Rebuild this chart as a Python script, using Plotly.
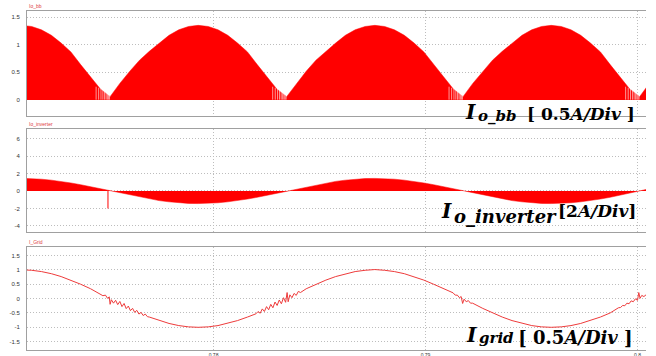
import plotly.graph_objects as go

# ---------------- data ----------------
# shared time base for the envelopes (s)
t_env = [0.77096, 0.77142, 0.77188, 0.77235, 0.77281, 0.77327, 0.77373, 0.77420, 0.77466, 0.77512,
         0.77558, 0.77605, 0.77651, 0.77697, 0.77743, 0.77790, 0.77836, 0.77882, 0.77928, 0.77975,
         0.78021, 0.78067, 0.78113, 0.78160, 0.78206, 0.78252, 0.78298, 0.78345, 0.78391, 0.78437,
         0.78483, 0.78530, 0.78576, 0.78622, 0.78668, 0.78715, 0.78761, 0.78807, 0.78853, 0.78900,
         0.78946, 0.78992, 0.79038, 0.79085, 0.79131, 0.79177, 0.79223, 0.79270, 0.79316, 0.79362,
         0.79408, 0.79455, 0.79501, 0.79547, 0.79593, 0.79640, 0.79686, 0.79732, 0.79778, 0.79825,
         0.79871, 0.79917, 0.79963, 0.80010, 0.80056]

# Io_bb envelope (A)
io_bb = [1.35, 1.33, 1.27, 1.17, 1.03, 0.87, 0.64, 0.42, 0.20, 0.06,
         0.30, 0.52, 0.72, 0.88, 1.03, 1.17, 1.27, 1.33, 1.35, 1.33,
         1.27, 1.17, 1.03, 0.87, 0.64, 0.42, 0.20, 0.06, 0.30, 0.52,
         0.72, 0.88, 1.03, 1.17, 1.27, 1.33, 1.35, 1.33, 1.27, 1.17,
         1.03, 0.87, 0.64, 0.42, 0.20, 0.06, 0.30, 0.52, 0.72, 0.88,
         1.03, 1.17, 1.27, 1.33, 1.35, 1.33, 1.27, 1.17, 1.03, 0.87,
         0.64, 0.42, 0.20, 0.06, 0.30]

# Io_inverter envelope (A)
io_inv = [1.44, 1.42, 1.35, 1.24, 1.10, 0.92, 0.72, 0.49, 0.25, 0.0,
          -0.25, -0.49, -0.72, -0.92, -1.10, -1.24, -1.35, -1.42, -1.44, -1.42,
          -1.35, -1.24, -1.10, -0.92, -0.72, -0.49, -0.25, 0.0, 0.25, 0.49,
          0.72, 0.92, 1.10, 1.24, 1.35, 1.42, 1.44, 1.42, 1.35, 1.24,
          1.10, 0.92, 0.72, 0.49, 0.25, 0.0, -0.25, -0.49, -0.72, -0.92,
          -1.10, -1.24, -1.35, -1.42, -1.44, -1.42, -1.35, -1.24, -1.10, -0.92,
          -0.72, -0.49, -0.25, 0.0, 0.25]

# inverter switching spike
spike_t = 0.77502
spike_v = -2.0

# I_grid (A) with ripple
t_grid = [0.77096, 0.77142, 0.77188, 0.77235, 0.77281, 0.77327, 0.77373, 0.77420, 0.77466,
          0.77478, 0.77490, 0.77500, 0.77508, 0.77512, 0.77518, 0.77528, 0.77538, 0.77548,
          0.77558, 0.77568, 0.77578, 0.77588, 0.77598, 0.77608, 0.77618, 0.77628, 0.77638,
          0.77648, 0.77658, 0.77668, 0.77678, 0.77688, 0.77697, 0.77743, 0.77790, 0.77836, 0.77882, 0.77928,
          0.77975, 0.78021, 0.78067, 0.78113, 0.78160, 0.78190, 0.78200, 0.78210, 0.78220, 0.78230,
          0.78240, 0.78250, 0.78260, 0.78270, 0.78280, 0.78290, 0.78300, 0.78310, 0.78320,
          0.78330, 0.78340, 0.78347, 0.78352, 0.78360, 0.78370, 0.78380, 0.78390, 0.78400,
          0.78410, 0.78437, 0.78483, 0.78530, 0.78576, 0.78622, 0.78668, 0.78715, 0.78761,
          0.78807, 0.78853, 0.78900, 0.78946, 0.78992, 0.79038, 0.79085, 0.79120, 0.79130,
          0.79140, 0.79150, 0.79160, 0.79168, 0.79175, 0.79182, 0.79192, 0.79202, 0.79212,
          0.79222, 0.79270, 0.79316, 0.79362, 0.79408, 0.79455, 0.79501, 0.79547, 0.79593,
          0.79640, 0.79686, 0.79732, 0.79778, 0.79825, 0.79871, 0.79900, 0.79910, 0.79920,
          0.79930, 0.79940, 0.79950, 0.79960, 0.79970, 0.79980, 0.79990, 0.80000, 0.80006,
          0.80012, 0.80020, 0.80030, 0.80040, 0.80050]
i_grid = [1.0, 0.985, 0.94, 0.866, 0.766, 0.643, 0.5, 0.342, 0.17,
          0.10, 0.12, 0.01, 0.06, -0.20, -0.04, -0.16, -0.06, -0.21,
          -0.10, -0.28, -0.17, -0.35, -0.26, -0.42, -0.34, -0.48, -0.41,
          -0.54, -0.48, -0.59, -0.54, -0.63, -0.643, -0.766, -0.866, -0.94, -0.985, -1.0,
          -0.985, -0.94, -0.866, -0.766, -0.643, -0.56, -0.53, -0.45, -0.51, -0.36,
          -0.45, -0.28, -0.39, -0.20, -0.32, -0.12, -0.24, -0.05, -0.18,
          0.03, -0.13, 0.21, -0.11, 0.13, 0.03, 0.18, 0.11, 0.25,
          0.21, 0.342, 0.5, 0.643, 0.766, 0.866, 0.94, 0.985, 1.01,
          0.985, 0.94, 0.866, 0.766, 0.643, 0.5, 0.342, 0.21, 0.20,
          0.12, 0.12, 0.03, 0.07, -0.17, -0.02, -0.11, -0.07, -0.16,
          -0.16, -0.342, -0.5, -0.643, -0.766, -0.866, -0.94, -0.985, -1.0,
          -0.985, -0.94, -0.866, -0.766, -0.643, -0.5, -0.38, -0.32, -0.31,
          -0.24, -0.25, -0.16, -0.18, -0.08, -0.11, -0.01, -0.06, 0.21,
          0.01, 0.11, 0.07, 0.13, 0.14]

# white switching gaps in Io_bb just before each valley
valley_t = [0.77512, 0.78345, 0.79177, 0.80010]
gap_offsets = [0.00003, 0.00008, 0.00013, 0.00019, 0.00026, 0.00034, 0.00043, 0.00054, 0.00066]
gap_heights = [0.08, 0.12, 0.14, 0.17, 0.18, 0.20, 0.22, 0.22, 0.24]

x_ticks = [0.78, 0.79, 0.80]
x_ticktext = ["0.78", "0.79", "0.8"]
y1_ticks = [0, 0.5, 1, 1.5]
y2_ticks = [-4, -2, 0, 2, 4, 6]
y3_ticks = [-1.5, -1, -0.5, 0, 0.5, 1, 1.5]

panel_names = ["Io_bb", "Io_inverter", "I_Grid"]
scale_subs = ["o_bb", "o_inverter", "grid"]
scale_texts = [" [ 0.5<i>A/Div</i> ]", "[2<i>A/Div</i>]", " [ 0.5<i>A/Div</i> ]"]

# ---------------- figure ----------------
RED = "#ff0000"
fig = go.Figure()

fig.add_trace(go.Scatter(x=t_env, y=io_bb, mode="lines", fill="tozeroy",
                         line=dict(color=RED, width=0.5), fillcolor=RED,
                         xaxis="x", yaxis="y", hoverinfo="skip"))
gx, gy = [], []
for v in valley_t:
    for o, h in zip(gap_offsets, gap_heights):
        gx += [v - o, v - o, None]
        gy += [0.005, h, None]
fig.add_trace(go.Scatter(x=gx, y=gy, mode="lines", line=dict(color="rgba(255,255,255,0.85)", width=0.7),
                         xaxis="x", yaxis="y", hoverinfo="skip"))

fig.add_trace(go.Scatter(x=t_env, y=io_inv, mode="lines", fill="tozeroy",
                         line=dict(color=RED, width=0.5), fillcolor=RED,
                         xaxis="x2", yaxis="y2", hoverinfo="skip"))
fig.add_trace(go.Scatter(x=[spike_t, spike_t], y=[0, spike_v], mode="lines",
                         line=dict(color=RED, width=1), xaxis="x2", yaxis="y2", hoverinfo="skip"))

fig.add_trace(go.Scatter(x=t_grid, y=i_grid, mode="lines",
                         line=dict(color="#ee3b3b", width=1),
                         xaxis="x3", yaxis="y3", hoverinfo="skip"))

xr = [0.7712, 0.8004]
grid_style = dict(showgrid=True, gridcolor="#bdbdbd", griddash="1px,2px", gridwidth=1,
                  zeroline=False, showline=True, linecolor="#a0a0a0", linewidth=1, ticks="",
                  automargin=False)
xcommon = dict(range=xr, tickvals=x_ticks, ticktext=x_ticktext, mirror=True, **grid_style)
ycommon = dict(tickfont=dict(size=6, color="#333", family="Liberation Sans"),
               ticklabelstandoff=5, **grid_style)

fig.update_layout(
    width=656, height=356,
    margin=dict(l=27, r=10, t=11, b=6, autoexpand=False),
    paper_bgcolor="white", plot_bgcolor="white",
    showlegend=False,
    xaxis=dict(domain=[0, 1], anchor="y", showticklabels=False, **xcommon),
    xaxis2=dict(domain=[0, 1], anchor="y2", showticklabels=False, **xcommon),
    xaxis3=dict(domain=[0, 1], anchor="y3", showticklabels=True,
                tickfont=dict(size=5, color="#333", family="Liberation Sans"),
                ticklabelstandoff=0, **xcommon),
    yaxis=dict(domain=[0.6903, 1.0], anchor="x", range=[-0.29, 1.61],
               tickvals=y1_ticks, ticktext=["0", "0.5", "1", "1.5"], **ycommon),
    yaxis2=dict(domain=[0.3481, 0.6519], anchor="x2", range=[-4.69, 7.09],
                tickvals=y2_ticks, ticktext=[str(v) for v in y2_ticks], **ycommon),
    yaxis3=dict(domain=[0.0, 0.3038], anchor="x3", range=[-1.79, 1.795],
                tickvals=y3_ticks, ticktext=["-1.5", "-1", "-0.5", "0", "0.5", "1", "1.5"], **ycommon),
)

# small trace names above panels
for txt, yy in zip(panel_names, [1.0147, 0.6667, 0.3186]):
    fig.add_annotation(text=txt, xref="paper", yref="paper", x=0, y=yy,
                       xanchor="left", yanchor="middle", showarrow=False,
                       font=dict(size=5, color="#e04040", family="Liberation Sans"))

# big scale labels, built from three pieces each: I, subscript, [scale]
SERIF = "DejaVu Serif"
place = [
    # I (x right, y mid), sub (x left, y mid, size), scale (x right, y mid, size)
    ((0.7270, 0.7006), (0.6917, 15), (0.9838, 0.6962, 17)),
    ((0.6882, 0.4115), (0.3938, 18), (0.9855, 0.4086, 17)),
    ((0.7286, 0.0442), (0.0354, 15), (0.9806, 0.0383, 18)),
]
for sub, scl, (ip, sp, cp) in zip(scale_subs, scale_texts, place):
    fig.add_annotation(text="<b><i>I</i></b>", xref="paper", yref="paper", x=ip[0], y=ip[1],
                       xanchor="right", yanchor="middle", showarrow=False, borderpad=0,
                       font=dict(family=SERIF, size=20, color="black"))
    fig.add_annotation(text="<b><i>" + sub + "</i></b>", xref="paper", yref="paper", x=ip[0], y=sp[0],
                       xanchor="left", yanchor="middle", showarrow=False, borderpad=0,
                       font=dict(family=SERIF, size=sp[1], color="black"))
    fig.add_annotation(text="<b>" + scl + "</b>", xref="paper", yref="paper", x=cp[0], y=cp[1],
                       xanchor="right", yanchor="middle", showarrow=False, borderpad=0,
                       font=dict(family=SERIF, size=cp[2], color="black"))

fig.write_html("out.html", config={"displayModeBar": False},
               post_script="document.body.style.margin='0px';")
